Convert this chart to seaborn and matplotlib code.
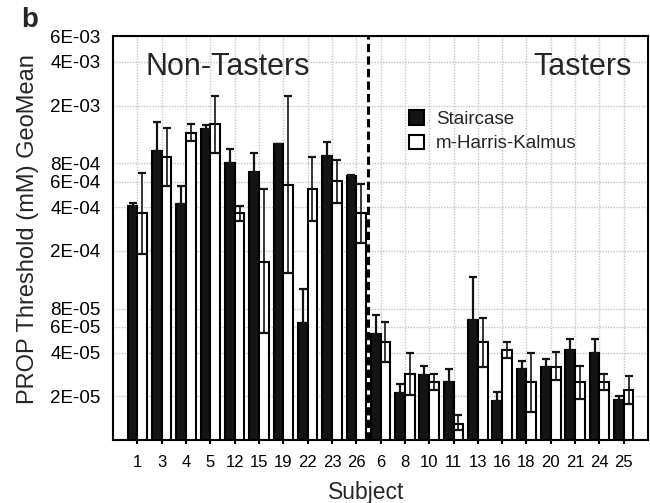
import seaborn as sns
import matplotlib.pyplot as plt
import numpy as np
import pandas as pd
from matplotlib.ticker import NullLocator


subjects = ['1', '3', '4', '5', '12', '15', '19', '22', '23', '26',
            '6', '8', '10', '11', '13', '16', '18', '20', '21', '24', '25']

# geometric means (mM)
staircase = [4.1e-4, 9.7e-4, 4.2e-4, 1.38e-3, 8.0e-4, 7.0e-4, 1.08e-3, 6.4e-5, 9.05e-4, 6.55e-4,
             5.4e-5, 2.1e-5, 2.8e-5, 2.5e-5, 6.75e-5, 1.85e-5, 3.1e-5, 3.2e-5, 4.15e-5, 4.0e-5, 1.9e-5]
staircase_hi = [4.3e-4, 1.53e-3, 5.6e-4, 1.47e-3, 1.0e-3, 9.4e-4, 1.09e-3, 1.09e-4, 1.13e-3, 6.7e-4,
                7.3e-5, 2.45e-5, 3.25e-5, 3.1e-5, 1.33e-4, 2.15e-5, 3.5e-5, 3.6e-5, 5.0e-5, 4.95e-5, 2.0e-5]

mhk = [3.65e-4, 8.85e-4, 1.3e-3, 1.49e-3, 3.65e-4, 1.68e-4, 5.65e-4, 5.35e-4, 6.1e-4, 3.65e-4,
       4.75e-5, 2.85e-5, 2.5e-5, 1.3e-5, 4.75e-5, 4.15e-5, 2.5e-5, 3.2e-5, 2.5e-5, 2.5e-5, 2.2e-5]
mhk_lo = [1.92e-4, 5.6e-4, 1.14e-3, 9.5e-4, 3.2e-4, 5.45e-5, 1.4e-4, 3.2e-4, 4.3e-4, 2.28e-4,
          3.45e-5, 2.03e-5, 2.2e-5, 1.17e-5, 3.2e-5, 3.65e-5, 1.57e-5, 2.58e-5, 1.92e-5, 2.2e-5, 1.77e-5]
mhk_hi = [6.9e-4, 1.41e-3, 1.49e-3, 2.31e-3, 4.1e-4, 5.3e-4, 2.32e-3, 8.9e-4, 8.5e-4, 5.8e-4,
          6.5e-5, 4.0e-5, 2.85e-5, 1.5e-5, 6.95e-5, 4.75e-5, 3.95e-5, 4.05e-5, 3.25e-5, 2.85e-5, 2.75e-5]

ytick_vals = [2e-5, 4e-5, 6e-5, 8e-5, 2e-4, 4e-4, 6e-4, 8e-4, 2e-3, 4e-3, 6e-3]
ytick_labels = ['2E-05', '4E-05', '6E-05', '8E-05', '2E-04', '4E-04', '6E-04', '8E-04',
                '2E-03', '4E-03', '6E-03']

methods = ['Staircase', 'm-Harris-Kalmus']

df = pd.DataFrame({
    'Subject': subjects * 2,
    'Method': [methods[0]] * len(subjects) + [methods[1]] * len(subjects),
    'Threshold': staircase + mhk,
})

sns.set_theme(style='ticks')
plt.rcParams['font.family'] = ['Liberation Sans', 'DejaVu Sans']

fig = plt.figure(figsize=(6.5, 5.03), dpi=100)
ax = fig.add_axes([0.174, 0.125, 0.823, 0.803])

sns.barplot(data=df, x='Subject', y='Threshold', hue='Method', order=subjects,
            hue_order=methods, palette={methods[0]: '#141414', methods[1]: 'white'},
            edgecolor='black', linewidth=1.5, errorbar=None, width=0.8,
            log_scale=True, ax=ax, zorder=2)

# error bars on top of each bar
st = np.array(staircase)
mh = np.array(mhk)
x_st = [p.get_x() + p.get_width() / 2 for p in ax.containers[0]]
x_mh = [p.get_x() + p.get_width() / 2 for p in ax.containers[1]]
ax.errorbar(x_st, st, yerr=[np.zeros_like(st), np.array(staircase_hi) - st],
            fmt='none', ecolor='#141414', elinewidth=1.6, capsize=3, capthick=1.6, zorder=3)
ax.errorbar(x_mh, mh, yerr=[mh - np.array(mhk_lo), np.array(mhk_hi) - mh],
            fmt='none', ecolor='#141414', elinewidth=1.2, capsize=3, capthick=1.6, zorder=3)

ax.set_yscale('log')
ax.set_ylim(1e-5, 6e-3)
ax.set_xlim(-1, len(subjects))
ax.set_yticks(ytick_vals)
ax.set_yticklabels(ytick_labels)
ax.yaxis.set_minor_locator(NullLocator())

ax.grid(True, color='#c4c4c4', linestyle=(0, (1, 1)), linewidth=1.0)
ax.set_axisbelow(True)

# divider between groups
ax.axvline(9.5, color='black', linewidth=2.2, linestyle=(0, (2.7, 1.4)), zorder=4)

ax.tick_params(axis='y', length=0, pad=9, labelsize=13.5, colors='black')
ax.tick_params(axis='x', length=3, width=1.5, pad=8, labelsize=12, colors='black')
for s in ax.spines.values():
    s.set_linewidth(1.5)
    s.set_color('black')

ax.set_xlabel('Subject', fontsize=16.5)
ax.xaxis.set_label_coords(0.474, -0.1)
ax.set_ylabel('PROP Threshold (mM) GeoMean', fontsize=17)
ax.yaxis.set_label_coords(-0.138, 0.523)

ax.text(0.06, 0.903, 'Non-Tasters', transform=ax.transAxes, fontsize=22, ha='left', va='baseline')
ax.text(0.97, 0.903, 'Tasters', transform=ax.transAxes, fontsize=22, ha='right', va='baseline')
fig.text(0.046, 0.96, 'b', fontsize=20, fontweight='bold', ha='center', va='center')

leg = ax.legend(loc='upper left', bbox_to_anchor=(0.54, 0.835), frameon=False,
                fontsize=13.5, handlelength=0.8, handleheight=0.8, handletextpad=0.6,
                labelspacing=0.35, borderaxespad=0)

fig.savefig('out.png', dpi=100)
